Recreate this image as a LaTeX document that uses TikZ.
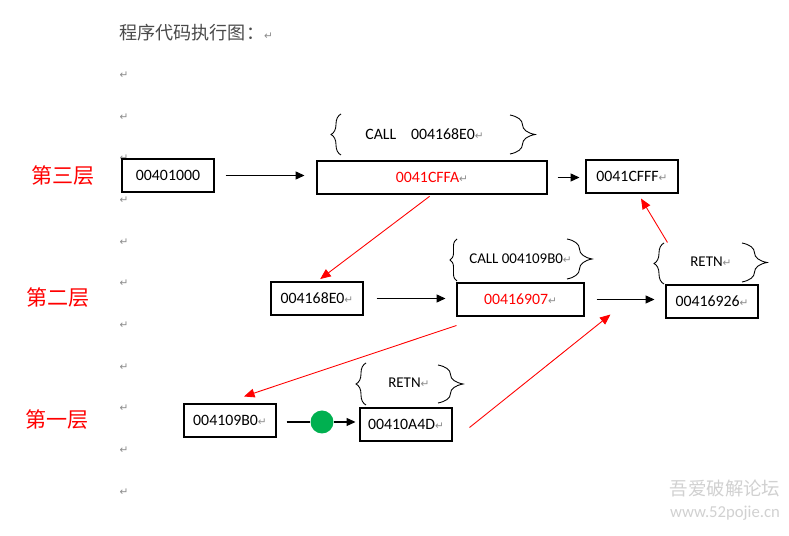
\documentclass[tikz,border=0pt]{standalone}
\usepackage{fontspec}
\setmainfont{Carlito}
\newfontfamily\cjk{Noto Sans CJK SC}
\newfontfamily\symfont{DejaVu Sans}
\usetikzlibrary{arrows.meta,positioning,calc,decorations.pathreplacing}
\definecolor{wdred}{HTML}{FF0000}
\definecolor{wdgreen}{HTML}{00B050}
\definecolor{pmgray}{HTML}{8C8C8C}
\definecolor{titlegray}{HTML}{4A4A4A}
\newcommand{\pmk}{{\symfont\fontsize{6}{6}\selectfont\textcolor{pmgray}{↵}}}

\begin{document}
\begin{tikzpicture}[
  x=0.02cm, y=-0.02cm,
  font=\fontsize{9}{11}\selectfont,
  box/.style={draw, line width=0.6pt, minimum width=1.84cm, minimum height=0.66cm, inner sep=0pt, align=center},
  lbl/.style={font=\cjk\fontsize{12}{14}\selectfont, text=wdred, inner sep=0pt},
  note/.style={font=\fontsize{8.5}{10}\selectfont, inner sep=0pt, anchor=west},
  pm/.style={inner sep=0pt},
  arr/.style={-{Triangle[length=5pt,width=4.5pt]}, line width=0.6pt},
  rarr/.style={-{Triangle[length=6pt,width=5pt]}, wdred, line width=0.5pt},
  lbr/.style={decorate, decoration={brace, amplitude=0.2cm}, line width=0.5pt},
  rbr/.style={decorate, decoration={brace, amplitude=0.5cm}, line width=0.5pt}
]
\fill[white] (0,0) rectangle (789,536);
\useasboundingbox (0,0) rectangle (789,536);

% title and paragraph marks
\node[anchor=west, inner sep=0pt, font=\cjk\fontsize{10.3}{12}\selectfont, text=titlegray] (title) at (119,33) {程序代码执行图：\pmk};
\foreach \y in {75,117,158,200,242,283,325,367,408,450,492}
  \node[pm] (p\y) at (124,\y) {\pmk};

% layers
\node[lbl] (l3) at (63,176) {第三层};
\node[lbl] (l2) at (58,298) {第二层};
\node[lbl] (l1) at (57,420) {第一层};

% boxes
\node[box] (b1) at (168,175.5) {00401000};
\node[box, minimum width=4.6cm] (b2) at (432,177.5) {\textcolor{wdred}{0041CFFA}\pmk};
\node[box] (b3) at (632,176.5) {0041CFFF\pmk};
\node[box] (b4) at (317,298.5) {004168E0\pmk};
\node[box, minimum width=2.54cm] (b5) at (520.5,299.5) {\textcolor{wdred}{00416907}\pmk};
\node[box] (b6) at (712,301.5) {00416926\pmk};
\node[box] (b7) at (230,420.5) {004109B0\pmk};
\node[box] (b8) at (406,424.5) {00410A4D\pmk};

% braces
\node[note, font=\fontsize{9}{11}\selectfont] (call1) at (365,134) {CALL\hspace{8.5pt}004168E0\pmk};
\draw[lbr] (341,155) -- (341,114);
\draw[rbr] (510,115) -- (510,154);
\node[note] (call2) at (469,259) {CALL 004109B0\pmk};
\draw[lbr, decoration={amplitude=0.14cm}] (457,281) -- (457,239);
\draw[rbr] (567,239) -- (567,279);
\node[note] (retn1) at (690,262) {RETN\pmk};
\draw[lbr] (664,284) -- (664,243);
\draw[rbr] (742,243) -- (742,282);
\node[note] (retn2) at (388,383) {RETN\pmk};
\draw[lbr] (366,405) -- (366,363);
\draw[rbr] (438,365) -- (438,403);

% black arrows
\draw[arr, shorten <=0.22cm, shorten >=0.24cm] (b1.east) -- (b1.east -| b2.west);
\draw[arr, shorten <=0.2cm, shorten >=0.12cm] (b2.east) -- (b2.east -| b3.west);
\draw[arr, shorten <=0.26cm, shorten >=0.22cm] (b4.east) -- (b4.east -| b5.west);
\draw[arr, shorten <=0.24cm, shorten >=0.22cm] (b5.east) -- (b5.east -| b6.west);
\node[circle, fill=wdgreen, minimum size=0.46cm, inner sep=0pt] (dot) at (322,422) {};
\draw[line width=0.6pt, shorten <=0.2cm] (b7.east |- dot.west) -- (dot.west);
\draw[arr, shorten >=0.08cm] (dot.east) -- (dot.east -| b8.west);

% red arrows
\coordinate (hit) at ($(b5.south east)+(26,-2)$);
\draw[rarr, shorten <=0.06cm, shorten >=0.08cm] (b2.south) -- (b4.north);
\draw[rarr] ($(b5.south west)+(0,9)$) -- ($(b7.north)+(14,-7)$);
\draw[rarr] ($(b8.east)+(17,3)$) -- (hit);
\draw[rarr] ($(b6.north west)+(2,-42)$) -- ($(b3.south)+(9,5)$);

% watermark
\node[font=\cjk\fontsize{10.5}{12}\selectfont, text=black!18, inner sep=0pt] (wm1) at (725,489) {吾爱破解论坛};
\node[font=\fontsize{9.5}{11}\selectfont, text=black!18, inner sep=0pt] (wm2) at (725,513) {www.52pojie.cn};
\end{tikzpicture}
\end{document}
